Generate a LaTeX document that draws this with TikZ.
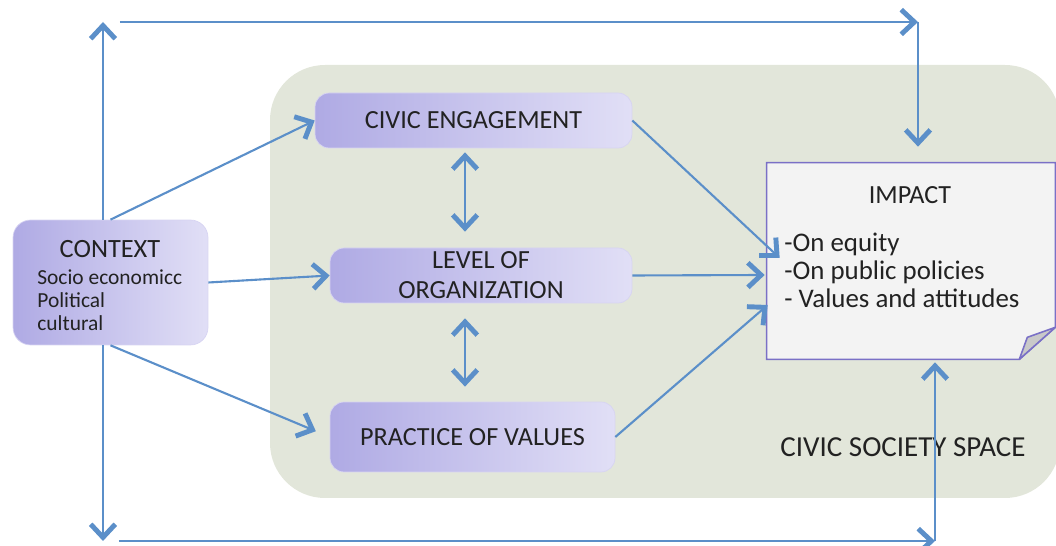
\documentclass[tikz,border=0pt]{standalone}
\usepackage{fontspec}
\setmainfont{Carlito}
\usetikzlibrary{arrows.meta,positioning}
\definecolor{linkblue}{HTML}{5B8FC9}
\definecolor{boxdark}{HTML}{AFAAE4}
\definecolor{boxlight}{HTML}{E1DFF6}
\definecolor{spacegreen}{HTML}{E2E6DA}
\definecolor{impactedge}{HTML}{7A70C6}
\definecolor{impactfill}{HTML}{F3F3F3}
\definecolor{foldgray}{HTML}{C9C9C9}
\definecolor{textgray}{HTML}{222222}
\tikzset{chev/.tip={Straight Barb[length=7.5pt,width=14pt,line width=2.8pt]}}

\begin{document}
\begin{tikzpicture}[x=0.02cm,y=-0.02cm,
  box/.style={rounded corners=8pt,left color=boxdark,right color=boxlight,
    draw=boxlight!80!boxdark,line width=0.4pt,text=textgray,align=center,
    inner sep=0pt,font=\fontsize{14.9}{17}\selectfont},
  txt/.style={text=textgray,inner sep=0pt},
  link/.style={draw=linkblue,line width=1.2pt,-chev},
  dlink/.style={link,chev-chev}]
  \useasboundingbox (0,0) rectangle (1056,546);
  % civic society space
  \fill[spacegreen,rounded corners=1.1cm] (270,65) rectangle (1060,498);
  \node[txt,font=\fontsize{16.5}{18}\selectfont] (CSS) at (903,447) {CIVIC SOCIETY SPACE};
  % instantiate nodes
  \node[box,rounded corners=10pt,minimum width=3.9cm,minimum height=2.5cm] (CTX) at (110.5,282.5) {};
  \node[txt,font=\fontsize{15}{17}\selectfont] (CTXT) at (110,249) {CONTEXT};
  \node[txt,anchor=west,align=left,font=\fontsize{12.2}{13}\selectfont] (CTXL) at (37,300)
    {Socio economicc\\Political\\cultural};
  \node[box,minimum width=6.34cm,minimum height=1.1cm] (CE) at (473.5,120.5) {CIVIC ENGAGEMENT};
  \node[box,minimum width=6.04cm,minimum height=1.1cm] (LO) at (481,275.5) {LEVEL OF\\ORGANIZATION};
  \node[box,minimum width=5.7cm,minimum height=1.4cm] (PV) at (472.5,437) {PRACTICE OF VALUES};
  \node[minimum width=5.76cm,minimum height=3.92cm,inner sep=0pt] (IMP) at (911,261) {};
  % impact sheet with folded corner
  \filldraw[fill=impactfill,draw=impactedge,line width=0.9pt]
    (IMP.north west) -- (IMP.north east) -- ([shift={(0,-32)}]IMP.south east)
    -- ([shift={(-36,0)}]IMP.south east) -- (IMP.south west) -- cycle;
  \filldraw[fill=foldgray,draw=impactedge,line width=0.9pt,line join=round]
    ([shift={(-36,0)}]IMP.south east) -- ([shift={(0,-32)}]IMP.south east)
    -- ([shift={(-28,-22)}]IMP.south east) -- cycle;
  \node[txt,font=\fontsize{14.9}{17}\selectfont] (IMPT) at (910,195) {IMPACT};
  \node[txt,anchor=west,align=left,font=\fontsize{15.3}{15.9}\selectfont] (IMPL) at (784,270)
    {-On equity\\-On public policies\\- Values and attitudes};
  % outer frame
  \coordinate (TL) at (103,22);
  \coordinate (TR) at (918,22);
  \coordinate (BL) at (103,541);
  \coordinate (BR) at (935,541);
  \coordinate (MX) at (465,0);
  \draw[link] (CTX.north -| TL) -- (TL);
  \draw[link] ([xshift=0.34cm]TL) -- (TR);
  \draw[link,shorten >=0.32cm] (TR) -- (IMP.north -| TR);
  \draw[link] (CTX.south -| BL) -- (BL);
  \draw[link] ([xshift=0.32cm]BL) -- (BR);
  \draw[link,shorten >=0.06cm] (BR) -- (IMP.south -| BR);
  % context to the three fields
  \draw[link] (CTX.north) -- (CE.west);
  \draw[link] (CTX.east) -- (LO.west);
  \draw[link,shorten >=0.3cm] (CTX.south) -- (PV.west);
  % fields among themselves
  \draw[dlink,shorten <=0.08cm,shorten >=0.32cm] (CE.south -| MX) -- (LO.north -| MX);
  \draw[dlink,shorten <=0.3cm,shorten >=0.3cm] (LO.south -| MX) -- (PV.north -| MX);
  % fields to impact
  \draw[link] (CE.east) -- ([shift={(13,-3)}]IMP.west);
  \draw[link] (LO.east) -- ([shift={(-2,14)}]IMP.west);
  \draw[link] (PV.east) -- ([shift={(1,44)}]IMP.west);
\end{tikzpicture}
\end{document}
